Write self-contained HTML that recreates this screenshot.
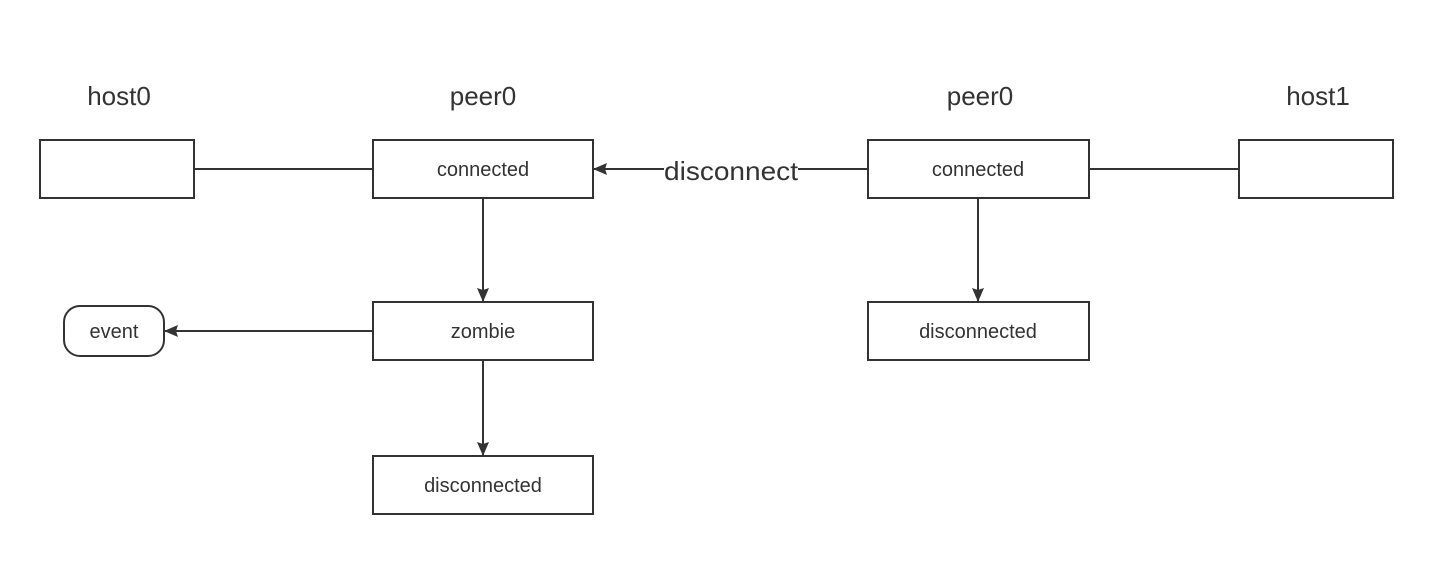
<!DOCTYPE html>
<html><head><style>
html,body{margin:0;padding:0;background:#fff;}
svg{display:block;}
text{font-family:"Liberation Sans",sans-serif;fill:#333;}
</style></head><body>
<svg width="1436" height="587" viewBox="0 0 1436 587" xmlns="http://www.w3.org/2000/svg">
<defs><marker id="a" markerWidth="14" markerHeight="12" refX="13" refY="6" orient="auto" markerUnits="userSpaceOnUse"><path d="M0,0 L14,6 L0,12 L2,6 Z" fill="#333"/></marker></defs>
<g fill="none" stroke="#333" stroke-width="2">
<rect x="40" y="140" width="154" height="58"/>
<rect x="373" y="140" width="220" height="58"/>
<rect x="373" y="302" width="220" height="58"/>
<rect x="373" y="456" width="220" height="58"/>
<rect x="868" y="140" width="221" height="58"/>
<rect x="868" y="302" width="221" height="58"/>
<rect x="1239" y="140" width="154" height="58"/>
<rect x="64" y="306" width="100" height="50" rx="16"/>
<line x1="194" y1="169" x2="373" y2="169"/>
<line x1="1089" y1="169" x2="1239" y2="169"/>
<line x1="483" y1="198" x2="483" y2="301" marker-end="url(#a)"/>
<line x1="483" y1="360" x2="483" y2="455" marker-end="url(#a)"/>
<line x1="978" y1="198" x2="978" y2="301" marker-end="url(#a)"/>
<line x1="373" y1="331" x2="165" y2="331" marker-end="url(#a)"/>
<line x1="868" y1="169" x2="798" y2="169"/>
<line x1="664" y1="169" x2="594" y2="169" marker-end="url(#a)"/>
</g>
<g font-size="26" text-anchor="middle">
<text x="119" y="105">host0</text>
<text x="483" y="105">peer0</text>
<text x="980" y="105">peer0</text>
<text x="1318" y="105">host1</text>
</g>
<g font-size="20" text-anchor="middle">
<text x="483" y="176">connected</text>
<text x="483" y="338">zombie</text>
<text x="483" y="492">disconnected</text>
<text x="978" y="176">connected</text>
<text x="978" y="338">disconnected</text>
<text x="114" y="338">event</text>
</g>
<text x="664" y="180" font-size="26" textLength="134" lengthAdjust="spacingAndGlyphs">disconnect</text>
</svg>
</body></html>
